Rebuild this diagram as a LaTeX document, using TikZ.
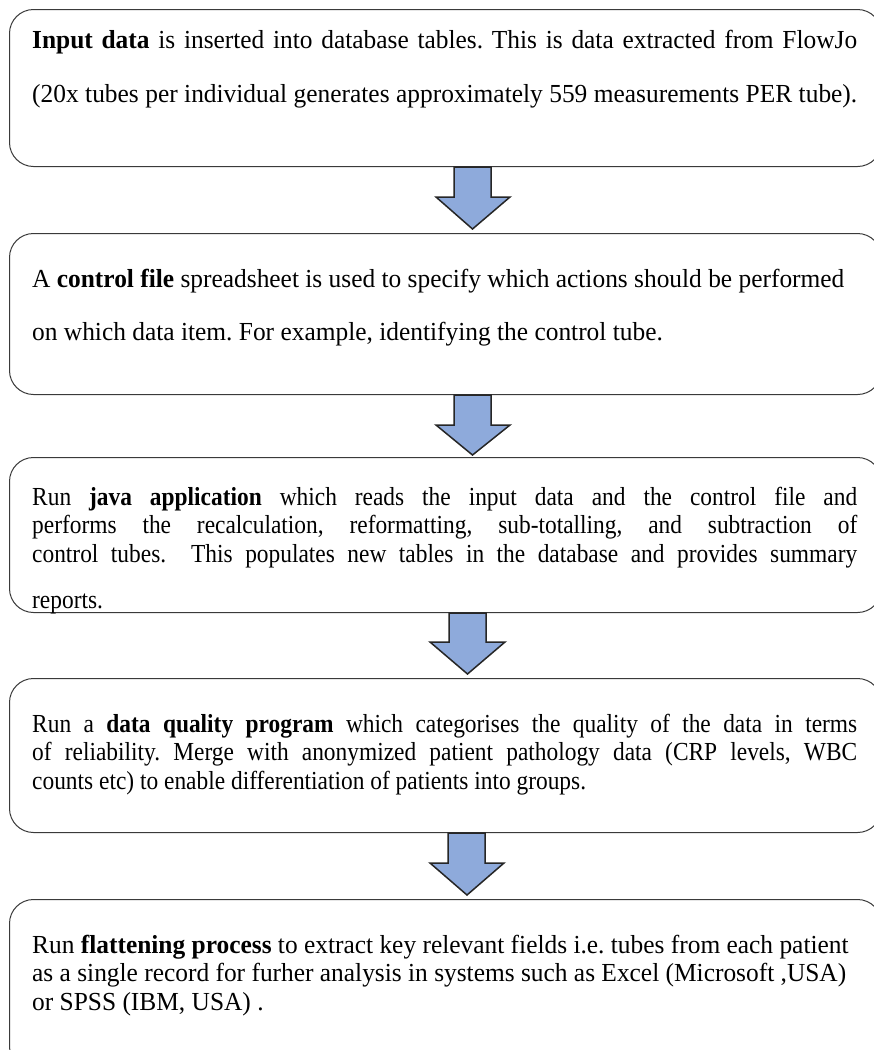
\documentclass[tikz,border=0pt]{standalone}
\usepackage{fontspec}
\setmainfont{Liberation Serif}
\newfontfamily\fa{Liberation Serif}[FakeStretch=0.977]
\newfontfamily\fb{Liberation Serif}[FakeStretch=0.90]
\usetikzlibrary{calc}
\definecolor{arrowfill}{HTML}{8EAADB}
\definecolor{arrowline}{HTML}{262626}
\definecolor{boxline}{HTML}{3A3A3A}
\newcommand{\fullline}[1]{\makebox[825pt][s]{#1}}
\newcommand{\natsp}{\frenchspacing\spaceskip=0pt\xspaceskip=0pt\relax}
\begin{document}
\begin{tikzpicture}[x=1pt,y=-1pt,
  stepbox/.style={draw=boxline, line width=1pt, rounded corners=24pt, minimum width=872pt, anchor=north west, inner sep=0pt},
  txt/.style={anchor=base west, inner sep=0pt, text width=825pt, align=left, execute at begin node=\natsp, font=\fb\fontsize{26}{28.5}\selectfont},
  blockarr/.style={draw=arrowline, fill=arrowfill, line width=1.5pt, line join=miter}]
\useasboundingbox (0,0) rectangle (874,1050);
\fill[white] (0,0) rectangle (874,1050);
\clip (0,0) rectangle (874,1050);

\node[stepbox, minimum height=157pt] (b1) at (9,9) {};
\node[stepbox, minimum height=161pt] (b2) at (9,233) {};
\node[stepbox, minimum height=155pt] (b3) at (9,457) {};
\node[stepbox, minimum height=154pt] (b4) at (9,678) {};
\node[stepbox, minimum height=171pt] (b5) at (9,899) {};

\node[txt, font=\fa\fontsize{26}{54}\selectfont] (t1) at (32,48) {\fullline{\textbf{Input data} is inserted into database tables. This is data extracted from FlowJo}\\
\fullline{(20x tubes per individual generates approximately 559 measurements PER tube).}};

\node[txt, font=\fa\fontsize{26}{53}\selectfont] (t2) at (32,287) {A \textbf{control file} spreadsheet is used to specify which actions should be performed\\
on which data item. For example, identifying the control tube.};

\node[txt] (t3) at (32,505) {\fullline{Run \textbf{java application} which reads the input data and the control file and}\\
\fullline{performs the recalculation, reformatting, sub-totalling, and subtraction of}\\
\fullline{control tubes.\ \ This populates new tables in the database and provides summary}\\[17.5pt]
reports.};

\node[txt] (t4) at (32,732) {\fullline{Run a \textbf{data quality program} which categorises the quality of the data in terms}\\
\fullline{of reliability. Merge with anonymized patient pathology data (CRP levels, WBC}\\
counts etc) to enable differentiation of patients into groups.};

\node[txt, font=\fa\fontsize{26}{28.5}\selectfont] (t5) at (32,953) {Run \textbf{flattening process} to extract key relevant fields i.e. tubes from each patient\\
as a single record for furher analysis in systems such as Excel (Microsoft ,USA)\\
or SPSS (IBM, USA) .};

\draw[blockarr] (454,0 |- b1.south) -- (454,197) -- (436,197) -- (472.5,229) -- (510,197) -- (491,197) -- (491,0 |- b1.south) -- cycle;
\draw[blockarr] (454,0 |- b2.south) -- (454,425) -- (436,425) -- (472.5,455) -- (510,425) -- (491,425) -- (491,0 |- b2.south) -- cycle;
\draw[blockarr] (449,0 |- b3.south) -- (449,642) -- (430,642) -- (467.5,674) -- (505,642) -- (486,642) -- (486,0 |- b3.south) -- cycle;
\draw[blockarr] (448,0 |- b4.south) -- (448,863) -- (430,863) -- (467,895) -- (504,863) -- (485,863) -- (485,0 |- b4.south) -- cycle;
\end{tikzpicture}
\end{document}
